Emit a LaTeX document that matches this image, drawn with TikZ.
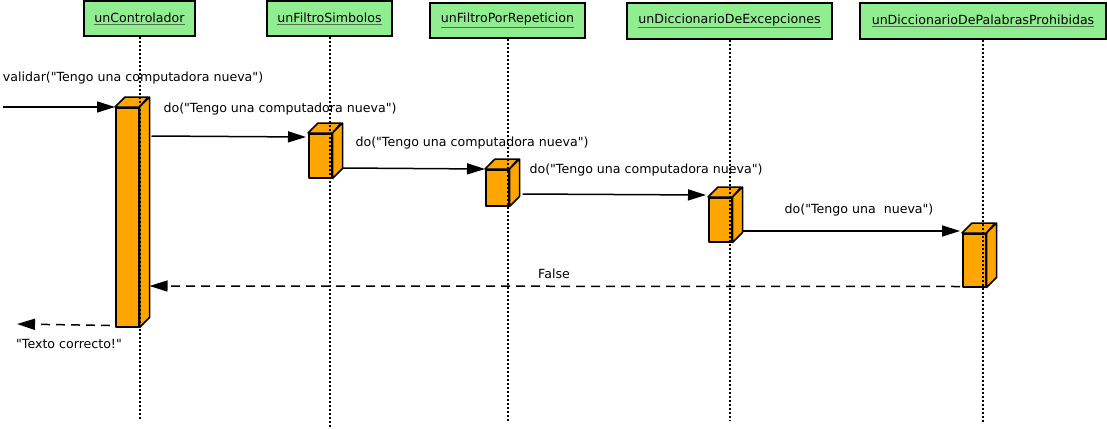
\documentclass[tikz,border=0pt]{standalone}
\usepackage{fontspec}
\setmainfont{DejaVu Sans}[Ligatures=TeXOff]
\usetikzlibrary{positioning}
\usetikzlibrary{arrows.meta,calc}
\usepackage{xcolor}

\definecolor{verdeobj}{HTML}{90EE90}
\definecolor{naranja}{HTML}{FFA500}
\definecolor{subrayado}{HTML}{4F6F4F}

\newcommand{\objeto}[1]{{\color{subrayado}\underline{\color{black}#1}}}
\newcommand{\cubo}[1]{%
\filldraw[caja] (#1.north west) -- ++(10,-10) -- ++(23,0) -- (#1.north east) -- cycle;
\filldraw[caja] (#1.north east) -- ++(10,-10) -- ($(#1.south east)+(10,-10)$) -- (#1.south east) -- cycle;}

\begin{document}
\begin{tikzpicture}[x=1pt,y=-1pt,
objeto/.style={draw=black,fill=verdeobj,line width=1.5pt,minimum height=35pt,inner sep=0pt,font=\fontsize{12.6}{15}\selectfont},
caja/.style={draw=black,fill=naranja,line width=1.5pt,line join=round},
activ/.style={caja,minimum width=23pt,inner sep=0pt,anchor=north west},
vida/.style={line width=2pt,dash pattern=on 2pt off 2pt},
msg/.style={line width=1.5pt,-{Triangle[length=18pt,width=11pt]}},
ret/.style={msg,dash pattern=on 9pt off 6pt},
etiq/.style={font=\fontsize{12.6}{15}\selectfont,inner sep=0pt}]

\useasboundingbox (0,0) rectangle (1107,428);

% objetos
\node[objeto,minimum width=111pt] (h1) at (139.5,18.5) {\objeto{unControlador}};
\node[objeto,minimum width=125pt] (h2) at (329.5,18.5) {\objeto{unFiltroSimbolos}};
\node[objeto,minimum width=155pt] (h3) at (507.5,20.5) {\objeto{unFiltroPorRepeticion}};
\node[objeto,minimum width=205pt,minimum height=36pt] (h4) at (729.5,21) {\objeto{unDiccionarioDeExcepciones}};
\node[objeto,minimum width=246pt,minimum height=36pt] (h5) at (983,21) {\objeto{unDiccionarioDePalabrasProhibidas}};

% activaciones
\node[activ,minimum height=219pt] (a1) at (115,107) {};
\cubo{a1}
\node[activ,minimum height=44pt] (a2) at (308,133) {};
\cubo{a2}
\node[activ,minimum height=36pt] (a3) at (485,169) {};
\cubo{a3}
\node[activ,minimum height=44pt] (a4) at (708,197) {};
\cubo{a4}
\node[activ,minimum height=53pt] (a5) at (962,233) {};
\cubo{a5}

% lineas de vida
\draw[vida] (h1.south) -- (h1.south |- 0,420);
\draw[vida] (h2.south) -- (h2.south |- 0,427);
\draw[vida] (h3.south) -- (h3.south |- 0,422);
\draw[vida] (h4.south) -- (h4.south |- 0,420);
\draw[vida] (h5.south) -- (h5.south |- 0,423);

% mensajes
\coordinate (ini) at (3,107);
\coordinate (fin) at (17,324);

\draw[msg] (ini) -- (a1.north west);
\node[etiq] (m0) at (133,78) {validar("Tengo una computadora nueva")};

\draw[msg] ($(a1.north east)+(12,29)$) -- ($(a2.north west)+(-2,4)$);
\node[etiq] (m1) at (280,109) {do("Tengo una computadora nueva")};

\draw[msg] ($(a2.north east)+(10,35)$) -- (a3.north west);
\node[etiq] (m2) at (472,143) {do("Tengo una computadora nueva")};

\draw[msg] ($(a3.north east)+(13,25)$) -- ($(a4.north west)+(-2,-2)$);
\node[etiq] (m3) at (646,170) {do("Tengo una computadora nueva")};

\draw[msg] ($(a4.north east)+(10,34)$) -- ($(a5.north west)+(-2,-2)$);
\node[etiq] (m4) at (859,210) {do("Tengo una\ \ nueva")};

\draw[ret] ($(a5.south west)+(-2,-1)$) -- ($(a1.north east)+(10,179)$);
\node[etiq] (m5) at (554,274) {False};

\draw[ret] ($(a1.south west)+(-5,-2)$) -- (fin);
\node[etiq] (m6) at (69,344) {"Texto correcto!"};

\end{tikzpicture}
\end{document}
